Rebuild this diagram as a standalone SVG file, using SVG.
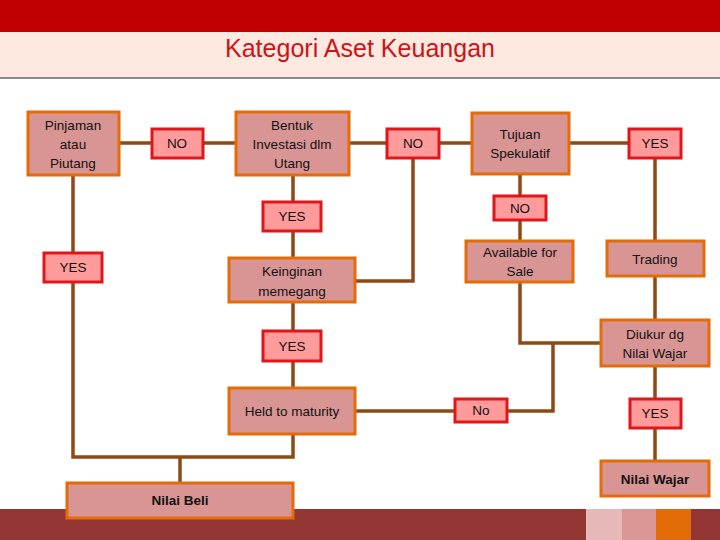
<svg xmlns="http://www.w3.org/2000/svg" width="720" height="540" viewBox="0 0 720 540">
<style>
.node{fill:#D99594;stroke:#E36C09;stroke-width:3}
.lab{fill:#FF9B9B;stroke:#E0161B;stroke-width:3}
.t{font-family:"Liberation Sans",Arial,sans-serif;font-size:13.5px;fill:#111;text-anchor:middle}
.b{font-weight:bold}
.c{fill:none;stroke:#8E4A14;stroke-width:3.5;stroke-linecap:square;stroke-linejoin:miter}
</style>
<rect x="0" y="0" width="720" height="32" fill="#C00000"/>
<rect x="0" y="32" width="720" height="46" fill="#FDE9DF"/>
<line x1="0" y1="78" x2="720" y2="78" stroke="#5F6B73" stroke-width="1.5"/>
<text x="360" y="57" font-family="Liberation Sans,Arial,sans-serif" font-size="25" fill="#CC1418" text-anchor="middle" textLength="270" lengthAdjust="spacingAndGlyphs">Kategori Aset Keuangan</text>
<rect x="0" y="509" width="720" height="31" fill="#943634"/>
<rect x="586" y="509" width="36" height="31" fill="#E6B9B8"/>
<rect x="622" y="509" width="34" height="31" fill="#D99694"/>
<rect x="656" y="509" width="35" height="31" fill="#E36C09"/>
<g id="connectors">
<path class="c" d="M119 143H152M203 143H236M349 143H387M439 143H472M569 143H629"/>
<path class="c" d="M73 175V253M73 282V457H293V434M180 457V483"/>
<path class="c" d="M293 175V202M293 231V258M293 302V331M293 361V388"/>
<path class="c" d="M413 158V281H355"/>
<path class="c" d="M520 174V196M520 220V241M520 282V343H601M553 343V411H507M355 411H455"/>
<path class="c" d="M655 158V241M655 276V320M655 366V399M655 428V461"/>
</g>
<g id="pinjaman"><rect class="node" x="28" y="112" width="91" height="63"/><text class="t" x="73" y="130">Pinjaman</text><text class="t" x="73" y="149">atau</text><text class="t" x="73" y="168">Piutang</text></g>
<g id="no1"><rect class="lab" x="152" y="129" width="51" height="29"/><text class="t" x="177" y="148">NO</text></g>
<g id="bentuk"><rect class="node" x="236" y="112" width="113" height="63"/><text class="t" x="292" y="130">Bentuk</text><text class="t" x="292" y="149">Investasi dlm</text><text class="t" x="292" y="168">Utang</text></g>
<g id="no2"><rect class="lab" x="387" y="129" width="52" height="29"/><text class="t" x="413" y="148">NO</text></g>
<g id="tujuan"><rect class="node" x="472" y="113" width="97" height="61"/><text class="t" x="520" y="139">Tujuan</text><text class="t" x="520" y="158">Spekulatif</text></g>
<g id="yes-trading"><rect class="lab" x="629" y="129" width="52" height="29"/><text class="t" x="655" y="148">YES</text></g>
<g id="yes-keinginan"><rect class="lab" x="263" y="202" width="58" height="29"/><text class="t" x="292" y="221">YES</text></g>
<g id="no-afs"><rect class="lab" x="494" y="196" width="52" height="24"/><text class="t" x="520" y="213">NO</text></g>
<g id="yes-left"><rect class="lab" x="44" y="253" width="58" height="29"/><text class="t" x="73" y="272">YES</text></g>
<g id="keinginan"><rect class="node" x="229" y="258" width="126" height="44"/><text class="t" x="292" y="276">Keinginan</text><text class="t" x="292" y="296">memegang</text></g>
<g id="afs"><rect class="node" x="466" y="241" width="107" height="41"/><text class="t" x="520" y="257">Available for</text><text class="t" x="520" y="276">Sale</text></g>
<g id="trading"><rect class="node" x="607" y="241" width="97" height="35"/><text class="t" x="655" y="264">Trading</text></g>
<g id="diukur"><rect class="node" x="601" y="320" width="108" height="46"/><text class="t" x="655" y="339">Diukur dg</text><text class="t" x="655" y="358">Nilai Wajar</text></g>
<g id="yes-htm"><rect class="lab" x="263" y="331" width="58" height="30"/><text class="t" x="292" y="351">YES</text></g>
<g id="htm"><rect class="node" x="229" y="388" width="126" height="46"/><text class="t" x="292" y="416">Held to maturity</text></g>
<g id="no-htm"><rect class="lab" x="455" y="399" width="52" height="23"/><text class="t" x="481" y="415">No</text></g>
<g id="yes-nw"><rect class="lab" x="630" y="399" width="51" height="29"/><text class="t" x="655" y="418">YES</text></g>
<g id="nilai-wajar"><rect class="node" x="601" y="461" width="108" height="35"/><text class="t b" x="655" y="484">Nilai Wajar</text></g>
<g id="nilai-beli"><rect class="node" x="67" y="483" width="226" height="35"/><text class="t b" x="180" y="505">Nilai Beli</text></g>
</svg>
